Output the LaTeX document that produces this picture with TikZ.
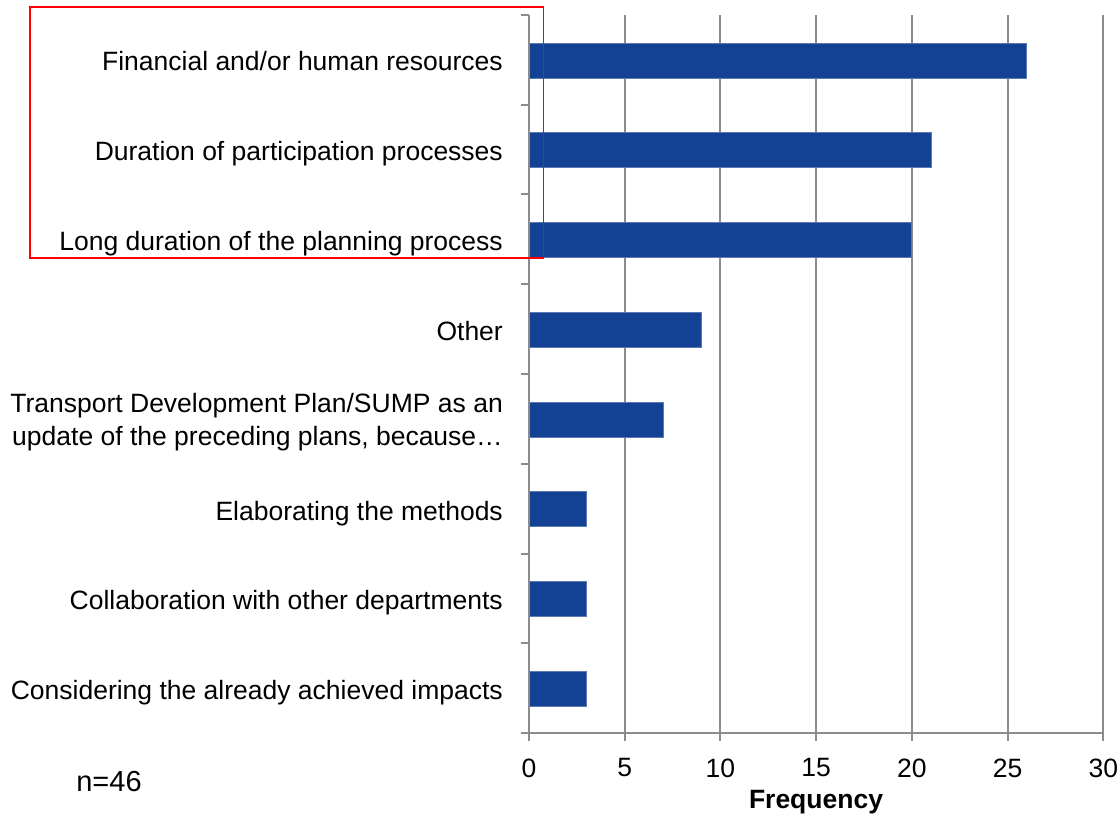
\documentclass[tikz,border=0pt]{standalone}
\usepackage{fontspec}
\setmainfont{Liberation Sans}
\begin{document}
\begin{tikzpicture}[x=1pt,y=-1pt,
  lbl/.style={anchor=base east,inner sep=0pt,font=\fontsize{26.5}{33}\selectfont,align=right},
  ticklbl/.style={anchor=center,inner sep=0pt,font=\fontsize{26.5}{33}\selectfont},
  grid/.style={draw=black!45,line width=2pt},
  axis/.style={draw=black!45,line width=2pt},
  bar/.style={fill=barblue,draw=barblue!70!white,line width=0.8pt},
  redbox/.style={draw=red,line width=1.6pt}]
\definecolor{barblue}{HTML}{134194}
\useasboundingbox (0,0) rectangle (1118,818);
\fill[white] (0,0) rectangle (1118,818);
% gridlines
\foreach \v in {5,10,15,20,25,30}{
  \draw[grid] ({529+\v*19.143},15) -- ({529+\v*19.143},733);
}
% bars
\foreach \val/\k in {26/0,21/1,20/2,9/3,7/4,3/5,3/6,3/7}{
  \path[bar] (529,{43+\k*89.75}) rectangle ({529+\val*19.143},{78+\k*89.75});
}
% axes
\coordinate (o) at (529,733);
\coordinate (top) at (529,15);
\coordinate (xend) at (1103.3,733);
\draw[axis] (top) -- (o) -- (xend);
\foreach \k in {0,...,8}{
  \draw[axis] (521,{15+\k*89.75}) -- (529,{15+\k*89.75});
}
\foreach \v in {0,5,10,15,20,25,30}{
  \draw[axis] ({529+\v*19.143},733) -- ({529+\v*19.143},741);
  \node[ticklbl] (t\v) at ({529+\v*19.143},768) {\v};
}
% category labels
\node[lbl] (c1) at (503,71) {Financial and/or human resources};
\node[lbl] (c2) at (503,161) {Duration of participation processes};
\node[lbl] (c3) at (503,250.5) {Long duration of the planning process};
\node[lbl] (c4) at (503,340) {Other};
\node[lbl,anchor=east] (c5) at (503,422.5) {Transport Development Plan/SUMP as an\\update of the preceding plans, because\dots};
\node[lbl] (c6) at (503,520) {Elaborating the methods};
\node[lbl] (c7) at (503,609.5) {Collaboration with other departments};
\node[lbl] (c8) at (503,699) {Considering the already achieved impacts};
% axis title and note
\node[ticklbl,font=\fontsize{26.5}{33}\selectfont\bfseries] (freq) at (816,802) {Frequency};
\node[ticklbl,font=\fontsize{29}{35}\selectfont] (n) at (109,782) {n=46};
% red highlight box
\draw[redbox] (30,7) rectangle (543.5,258);
\end{tikzpicture}
\end{document}
